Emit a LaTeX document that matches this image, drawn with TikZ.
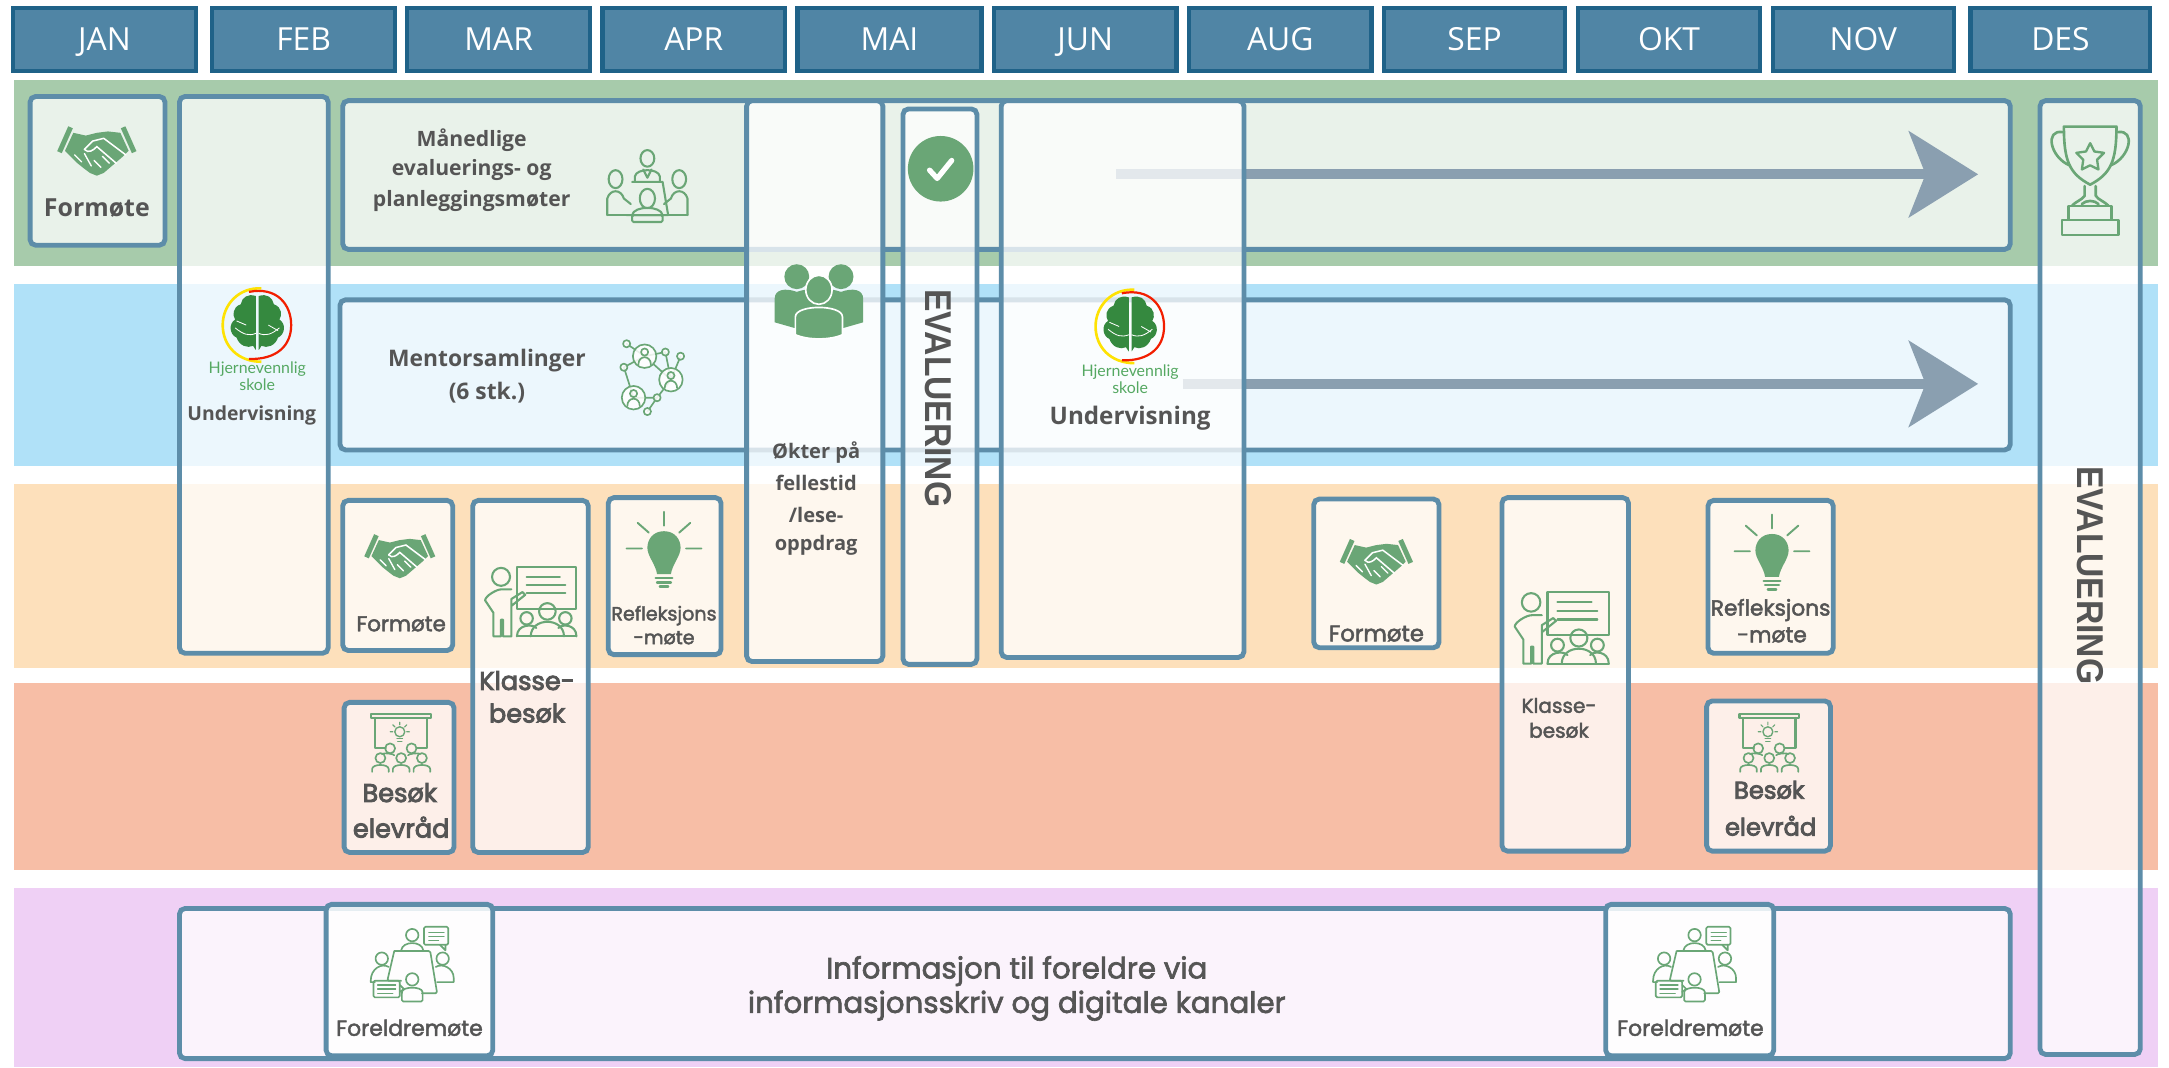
\documentclass[tikz,border=0pt]{standalone}
\usepackage{graphicx}
\usepackage{fontspec}
\usetikzlibrary{arrows.meta}
\newfontfamily\ops{Open Sans}
\newfontfamily\lex{Poppins}[FakeBold=2.2]
\newfontfamily\lexb{Poppins}[FakeBold=3.4]
\newfontfamily\lat{Lato}
\newfontfamily\lib{Liberation Sans}
\definecolor{ic}{HTML}{6AA676}
\definecolor{bandg}{HTML}{A7CBAB}
\definecolor{bandb}{HTML}{B0E1F8}
\definecolor{bando}{HTML}{FDE0BB}
\definecolor{bands}{HTML}{F7BEA6}
\definecolor{bandp}{HTML}{EFD0F5}
\definecolor{monf}{HTML}{5085A5}
\definecolor{mond}{HTML}{1F6288}
\definecolor{bst}{HTML}{5D8DA9}
\definecolor{tx}{HTML}{555555}
\definecolor{arr}{HTML}{8A9FB0}
\definecolor{brain}{HTML}{35893F}
\definecolor{lg}{HTML}{55A862}
\tikzset{
 x=1pt,y=-1pt,
 mon/.style={draw=mond,line width=3pt,fill=monf,text=white,inner sep=0,outer sep=0,text height=16.5pt,text depth=0pt,font=\ops\fontsize{23}{26}\selectfont},
 band/.style={draw=none,inner sep=0,outer sep=0},
 bx/.style={draw=bst,line width=3.5pt,rounded corners=4pt,fill=white,fill opacity=.76,inner sep=0,outer sep=0},
 bxw/.style={bx,fill opacity=.85},
 flow/.style={draw=arr,line width=7pt,-{Stealth[length=50pt,width=62pt,inset=12pt]}},
 lab/.style={text=tx,align=center,inner sep=0,font=\ops\bfseries},
 lx/.style={text=tx,align=center,inner sep=0,font=\lex},
 icl/.style={draw=ic,line width=1.5pt,line join=round,line cap=round,fill=none},
 icf/.style={fill=ic,draw=none},
 pics/handshake/.style={code={
  \draw[ic,line width=3.6pt] (-27,1)--(-19,-17);
  \draw[ic,line width=3.6pt] (27,1)--(19,-17);
  \fill[ic] (-17,-13)--(-8,-11)--(0,-13)--(8,-14)--(17,-13)--(23,0)--(19,4)--(5,16)--(0,18)--(-5,16)--(-9,13)--(-14,9)--(-18,5)--(-23,0)--cycle;
  \draw[white,line width=1.1pt,line cap=round] (-9,-1)--(-3,-7)--(5,-9)--(21,3);
  \draw[white,line width=1.1pt,line cap=round] (-9,-1)..controls (-6,2) and (-3,0)..(0,-3)--(14,9);
  \draw[white,line width=1pt,line cap=round] (-16,3)--(-11,8) (-9,2)--(-4,11) (-2,7)--(3,12) (4,4)--(9,9);
 }},
 pics/meeting/.style={code={
  \draw[icl] (0,-20) ellipse (5 and 6);
  \draw[icl] (-9,-3)--(-9,-7)..controls (-8,-13) and (8,-13)..(9,-7)--(9,-3);
  \draw[icl] (-3,-12)--(0,-6)--(3,-12);
  \draw[icl] (-23,-5) ellipse (5 and 6.5) (23,-5) ellipse (5 and 6.5);
  \draw[icl] (-29,21)--(-29,9)..controls (-27,2) and (-19,2)..(-17,9)--(-12,13);
  \draw[icl] (29,21)--(29,9)..controls (27,2) and (19,2)..(17,9)--(12,13);
  \draw[icl] (-11,-3)--(11,-3)--(15,21)--(-15,21);
  \draw[icl] (-29,21)--(29,21);
  \draw[icl] (0,9) ellipse (5.5 and 7);
  \draw[icl] (-11,21)..controls (-10,14) and (10,14)..(11,21);
  \draw[icl,rounded corners=1pt] (-11,21) rectangle (11,26);
 }},
 pics/network/.style={code={
  \draw[icl,line width=1.2pt] (-18,-25)--(-5,-16) (10,-19)--(14,1) (21,-16)--(14,1) (10,-19)--(-5,-16) (-20,-8)--(-13,14) (-5,-16)--(14,1) (-13,14)--(4,14)--(14,1) (-3,24)--(4,14) (-20,-8)--(-5,-16);
  \foreach \p in {(-5,-16),(14,1),(-13,14)}{
   \fill[white,fill opacity=.85] \p circle (8.5);
   \draw[icl,line width=1.2pt] \p circle (8.5);
   \begin{scope}[shift={\p}]
    \draw[icl,line width=1.2pt] (0,-3) circle (2.6);
    \draw[icl,line width=1.2pt] (-4.5,6)..controls (-4.5,-1) and (4.5,-1)..(4.5,6);
   \end{scope}}
  \foreach \p in {(-18,-25),(10,-19),(21,-16),(-20,-8),(4,14),(-3,24)}{
   \fill[white,fill opacity=.85] \p circle (2.6);
   \draw[icl,line width=1.2pt] \p circle (2.6);}
 }},
 pics/logo/.style={code={
  \draw[color=yellow!85!orange,line width=1.9pt] (3,-26.5)..controls (-13,-27.5) and (-25,-15)..(-25,0)..controls (-25,15) and (-14,26.5)..(3,26.5);
  \draw[color=red!75!orange!95!black,line width=1.6pt] (-6,-24)..controls (14,-28) and (24.5,-15)..(24.5,0)..controls (24.5,15) and (14,25)..(-6,24.5);
  \fill[brain] (-1,-21)..controls (-7,-23) and (-11,-20)..(-12,-15)..controls (-18,-13) and (-18,-7)..(-16,-4)..controls (-21,-1) and (-20,7)..(-15,9)..controls (-13,15) and (-7,17)..(-3,15)..controls (-2,17) and (-1,18)..(-1,18)--cycle;
  \fill[brain] (1,-21)..controls (7,-23) and (11,-20)..(12,-15)..controls (18,-13) and (18,-7)..(16,-4)..controls (21,-1) and (20,7)..(15,9)..controls (13,15) and (7,17)..(3,15)..controls (2,17) and (1,18)..(1,18)--cycle;
  \draw[white,line width=.6pt] (-16,2)..controls (-10,7) and (-6,8)..(-1,6) (16,2)..controls (10,7) and (6,8)..(1,6) (-15,-3)--(-8,0) (15,4)--(8,0);
 }},
 pics/people/.style={code={
  \fill[ic] (-16,-18) circle (9) (16,-18) circle (9);
  \fill[ic] (-32,15)--(-32,-2)..controls (-32,-9) and (-24,-10)..(-16,-7)..controls (-8,-10) and (8,-10)..(16,-7)..controls (24,-10) and (32,-9)..(32,-2)--(32,15)--(18,19)--(-18,19)--cycle;
  \fill[ic,draw=white,line width=1.2pt] (0,-8.5) ellipse (9.5 and 10.5);
  \fill[ic,draw=white,line width=1.2pt] (-17,24)--(-17,11)..controls (-17,2) and (17,2)..(17,11)--(17,24)..controls (8,28) and (-8,28)..(-17,24)--cycle;
 }},
 pics/checkmark/.style={code={
  \fill[ic] (0,0) circle (23.7);
  \draw[white,line width=3.8pt,line cap=round,line join=round] (-8,1)--(-2.5,7)--(8,-6);
 }},
 pics/trophy/.style={code={
  \draw[icl,line width=1.9pt] (-19,-40)--(19,-40)..controls (19,-15) and (15,-6)..(0,2)..controls (-15,-6) and (-19,-15)..(-19,-40)--cycle;
  \draw[icl,line width=1.9pt] (-20,-36)..controls (-33,-38) and (-29,-18)..(-15,-12);
  \draw[icl,line width=1.9pt] (20,-36)..controls (33,-38) and (29,-18)..(15,-12);
  \draw[icl,line width=1.9pt] (-4,3)--(-4,10)..controls (-6,13) and (-10,14)..(-13,17) (4,3)--(4,10)..controls (6,13) and (10,14)..(13,17) (-6,16)..controls (-3,13) and (3,13)..(6,16);
  \draw[icl,line width=1.9pt] (-15.5,17.5) rectangle (15.5,27.5);
  \draw[icl,line width=1.9pt] (-20.5,27.5) rectangle (20.5,38.5);
  \draw[icl,line width=1.7pt] (0,-28)--(3,-22)--(10,-21)--(5,-16)--(6,-9)--(0,-12)--(-6,-9)--(-5,-16)--(-10,-21)--(-3,-22)--cycle;
 }},
 pics/presenter/.style={code={
  \draw[icl] (-10,-25) rectangle (33,5);
  \draw[icl] (-3,-18)--(21,-18) (-3,-12)--(25,-12) (-3,-6)--(25,-6);
  \draw[icl] (-21.5,-18) circle (6.5);
  \draw[icl] (-14,-9)--(-21,-9)..controls (-25,-9) and (-33,-4)..(-33,-1)--(-27,8)--(-27,25)--(-21.5,25)--(-21.5,13)--(-20,13)--(-20,25)--(-14,25)--(-14,-2)--(-6,-7)--(-4,-5)--(-14,3);
  \draw[icl] (-3,12) circle (4.5) (25,12) circle (4.5);
  \draw[icl] (12,7) circle (6);
  \draw[icl] (-10,25)..controls (-10,16) and (2,16)..(4,19) (33,25)..controls (33,16) and (22,16)..(20,19);
  \draw[icl] (0,25)..controls (0,11) and (24,11)..(24,25);
  \draw[icl] (-10,25)--(33,25);
 }},
 pics/bulb/.style={code={
  \fill[ic] (0,-21)..controls (8,-21) and (12,-15)..(12,-9)..controls (12,-3) and (6,3)..(5,10)--(-5,10)..controls (-6,3) and (-12,-3)..(-12,-9)..controls (-12,-15) and (-8,-21)..(0,-21)--cycle;
  \draw[ic,line width=1.8pt,line cap=round] (-6,13)--(6,13) (-5,16)--(5,16) (-3,19)--(3,19);
  \draw[ic,line width=1.4pt,line cap=round] (0,-35)--(0,-25) (-27,-8.5)--(-16,-8.5) (16,-8.5)--(27,-8.5) (-19,-27)--(-11,-20) (19,-27)--(11,-20);
 }},
 pics/classroom/.style={code={
  \draw[icl] (-21.5,-21) rectangle (21.5,-18);
  \draw[icl] (-19,-18)--(-19,4)--(-11,4) (19,-18)--(19,4)--(11,4);
  \draw[icl,line width=1pt] (-1,-8) circle (3.6);
  \draw[icl,line width=1pt] (-3,-3)--(1,-3) (-2.5,-1)--(.5,-1);
  \draw[icl,line width=.8pt] (-1,-15)--(-1,-13) (-8,-8)--(-6,-8) (6,-8)--(4,-8) (-6,-13)--(-4.5,-11.5) (4,-13)--(2.5,-11.5);
  \foreach \p in {(-8,4),(7.5,4),(-15,11),(0,11),(15,11)}{\draw[icl,line width=1.2pt] \p circle (3.6);}
  \draw[icl,line width=1.2pt] (-21,21)--(-21,19)..controls (-21,15) and (-9,15)..(-9,19)--(-9,21);
  \draw[icl,line width=1.2pt] (-6,21)--(-6,19)..controls (-6,15) and (6,15)..(6,19)--(6,21);
  \draw[icl,line width=1.2pt] (21,21)--(21,19)..controls (21,15) and (9,15)..(9,19)--(9,21);
  \draw[icl,line width=1.2pt] (-14,8)..controls (-12,7) and (-5,8)..(-5,9) (14,8)..controls (12,7) and (5,8)..(5,9);
 }},
 pics/parents/.style={code={
  \draw[icl,line width=1.2pt] (0,-21) circle (4.5);
  \draw[icl,line width=1.2pt] (-8,-10)..controls (-7,-17) and (7,-17)..(8,-10);
  \draw[icl,line width=1.2pt,rounded corners=1pt] (-13,-9.5)--(13,-9.5)--(18,21)--(7,21) (-8,12)--(-18,12)--(-13,-9.5);
  \draw[icl,line width=1.2pt,rounded corners=1pt] (8.5,-27) rectangle (26,-14);
  \draw[icl,line width=1.2pt] (20,-14)--(24,-10)--(24,-14);
  \draw[icl,line width=.9pt] (12,-23)--(23,-23) (12,-20)--(23,-20) (12,-17)--(19,-17);
  \draw[icl,line width=1.2pt] (-22,-4) circle (4.5) (22,-4) circle (4.5);
  \draw[icl,line width=1.2pt] (-17,2)..controls (-22,-1) and (-30,3)..(-30,12)--(-30,13)--(-27,13);
  \draw[icl,line width=1.2pt] (17,2)..controls (22,-1) and (30,3)..(30,10)--(30,13)--(18,13);
  \draw[icl,line width=1.2pt,rounded corners=1pt] (-28,12) rectangle (-9,24);
  \draw[icl,line width=1.2pt] (-9,15)--(-6,18)--(-9,20);
  \draw[icl,line width=.9pt] (-25,15)--(-12,15) (-25,18)--(-12,18) (-25,21)--(-14,21);
  \draw[icl,line width=1.2pt] (0,11) circle (4.5);
  \draw[icl,line width=1.2pt,rounded corners=1pt] (-7.5,27)--(-7.5,21)..controls (-7,16) and (7,16)..(7.5,21)--(7.5,27)--cycle;
 }},
}
\newcommand{\mybox}[6][bx]{%
 \pgfmathsetmacro\bw{#4-#2-3.5}\pgfmathsetmacro\bh{#5-#3-3.5}%
 \pgfmathsetmacro\bcx{(#4+#2)/2}\pgfmathsetmacro\bcy{(#5+#3)/2}%
 \node[#1,minimum width=\bw pt,minimum height=\bh pt] (#6) at (\bcx,\bcy) {};}
\newcommand{\myband}[4]{%
 \pgfmathsetmacro\bh{#3-#2}\pgfmathsetmacro\bcy{(#3+#2)/2}%
 \node[band,fill=#1,minimum width=1550pt,minimum height=\bh pt] (#4) at (785,\bcy) {};}
\newcommand{\mymon}[4]{%
 \pgfmathsetmacro\bw{#3-#2-3}\pgfmathsetmacro\bcx{(#3+#2)/2}%
 \node[mon,minimum width=\bw pt,minimum height=46pt] (#4) at (\bcx,28.5) {#1};}
\newcommand{\fs}[1]{\fontsize{#1}{#1}\selectfont}
\newcommand{\evtxt}{\scalebox{.9}[1]{EVALUERING}}
\begin{document}
\begin{tikzpicture}
\useasboundingbox (0,0) rectangle (1568,772);
\fill[white] (0,0) rectangle (1568,772);
% months
\mymon{JAN}{8}{143}{jan}
\mymon{FEB}{152}{287}{feb}
\mymon{MAR}{293}{428}{mar}
\mymon{APR}{434}{569}{apr}
\mymon{MAI}{575}{711}{mai}
\mymon{JUN}{717}{852}{jun}
\mymon{AUG}{858}{993}{aug}
\mymon{SEP}{999}{1133}{sep}
\mymon{OKT}{1139}{1274}{okt}
\mymon{NOV}{1280}{1414}{nov}
\mymon{DES}{1423}{1556}{des}
% bands
\myband{bandg}{58}{192}{b1}
\myband{bandb}{205}{337}{b2}
\myband{bando}{350}{483}{b3}
\myband{bands}{494}{629}{b4}
\myband{bandp}{642}{771}{b5}
% wide boxes
\mybox{246}{71}{1455}{182}{mnd}
\mybox{244}{215}{1455}{327}{ment}
\mybox{128}{655}{1455}{767}{info}
% arrows
\coordinate (a1s) at (807,126);
\coordinate (a1e) at (1430,126);
\coordinate (a2s) at (855,277.5);
\coordinate (a2e) at (1430,277.5);
\draw[flow] (a1s)--(a1e);
\draw[flow] (a2s)--(a2e);
% columns
\mybox{20}{68}{121}{179}{fm1}
\mybox{128}{68}{239}{474}{und1}
\mybox{538}{71}{640}{480}{okt1}
\mybox{651}{77}{708}{482}{ev1}
\mybox{722}{71}{901}{477}{und2}
\mybox{1473}{71}{1549}{764}{ev2}
\mybox{246}{360}{329}{472}{fm2}
\mybox{340}{360}{427}{618}{kl1}
\mybox{438}{358}{523}{475}{rf1}
\mybox{948}{359}{1042}{470}{fm3}
\mybox{1084}{358}{1179}{617}{kl2}
\mybox{1233}{360}{1327}{474}{rf2}
\mybox{247}{506}{330}{618}{be1}
\mybox{1232}{505}{1325}{617}{be2}
\mybox[bxw]{234}{652}{358}{765}{fo1}
\mybox[bxw]{1159}{652}{1284}{765}{fo2}
% icons
\pic (h1) at (70,109) {handshake};
\pic[scale=.89] (h2) at (289,402) {handshake};
\pic[scale=.92] (h3) at (995,406) {handshake};
\pic (m1) at (468,134.5) {meeting};
\pic (n1) at (471,273.5) {network};
\pic (l1) at (186,235) {logo};
\pic (l2) at (817,236) {logo};
\pic (p1) at (592,218) {people};
\pic (c1) at (680,122) {checkmark};
\pic (t1) at (1511,131.5) {trophy};
\pic (s1) at (383.7,435) {presenter};
\pic[scale=1.03] (s2) at (1129,454) {presenter};
\pic (i1) at (480,405) {bulb};
\pic (i2) at (1281,407) {bulb};
\pic (k1) at (290,537) {classroom};
\pic (k2) at (1279,537) {classroom};
\pic (o1) at (298,697) {parents};
\pic (o2) at (1225,697) {parents};
% texts
\node[lab,font=\ops\bfseries\fs{18}] (t01) at (70,150.5) {Formøte};
\node[lab,font=\ops\bfseries\fs{15.3}] (t02) at (341,101.5) {Månedlige};
\node[lab,font=\ops\bfseries\fs{15.3}] (t03) at (341,123) {evaluerings- og};
\node[lab,font=\ops\bfseries\fs{15.3}] (t04) at (341,145) {planleggingsmøter};
\node[lab,font=\ops\bfseries\fs{16.5}] (t05) at (352,261) {Mentorsamlinger};
\node[lab,font=\ops\bfseries\fs{16.5}] (t06) at (352,284) {(6 stk.)};
\node[lab,font=\ops\bfseries\fs{14}] (t07) at (182,300) {Undervisning};
\node[lab,font=\ops\bfseries\fs{17.5}] (t08) at (817,302) {Undervisning};
\node[text=lg,inner sep=0,font=\lat\fs{11.5}] (t09) at (186,267) {Hjernevennlig};
\node[text=lg,inner sep=0,font=\lat\fs{11.5}] (t10) at (186,278) {skole};
\node[text=lg,inner sep=0,font=\lat\fs{11.5}] (t11) at (817,269) {Hjernevennlig};
\node[text=lg,inner sep=0,font=\lat\fs{11.5}] (t12) at (817,280) {skole};
\node[lab,font=\ops\bfseries\fs{14.5}] (t13) at (590,327) {Økter på};
\node[lab,font=\ops\bfseries\fs{14.5}] (t14) at (590,349) {fellestid};
\node[lab,font=\ops\bfseries\fs{14.5}] (t15) at (590,372) {/lese-};
\node[lab,font=\ops\bfseries\fs{14.5}] (t16) at (590,394) {oppdrag};
\node[lab,rotate=-90,font=\lib\bfseries\fs{27}] (t17) at (678,288) {\evtxt};
\node[lab,rotate=-90,font=\lib\bfseries\fs{27}] (t18) at (1511,416) {\evtxt};
\node[lx,font=\lex\fs{15.5}] (t19) at (290,451) {Formøte};
\node[lx,font=\lex\fs{16.5}] (t20) at (995,458) {Formøte};
\node[lx,font=\lex\fs{13.8}] (t21) at (480,445) {Refleksjons};
\node[lx,font=\lex\fs{13.8}] (t22) at (480,461) {-møte};
\node[lx,font=\lex\fs{15.7}] (t23) at (1280,441) {Refleksjons};
\node[lx,font=\lex\fs{15.7}] (t24) at (1281,459) {-møte};
\node[lx,font=\lexb\fs{18.5}] (t25) at (381,492) {Klasse-};
\node[lx,font=\lexb\fs{18.5}] (t26) at (381,515.5) {besøk};
\node[lx,font=\lex\fs{14.5}] (t27) at (1127,510) {Klasse-};
\node[lx,font=\lex\fs{14.5}] (t28) at (1127,528) {besøk};
\node[lx,font=\lexb\fs{18.5}] (t29) at (289,573) {Besøk};
\node[lx,font=\lexb\fs{18.5}] (t30) at (290,598) {elevråd};
\node[lx,font=\lexb\fs{17.5}] (t31) at (1279,571) {Besøk};
\node[lx,font=\lexb\fs{17.5}] (t32) at (1280,597) {elevråd};
\node[lx,font=\lex\fs{15.8}] (t33) at (296,743) {Foreldremøte};
\node[lx,font=\lex\fs{15.8}] (t34) at (1222,743) {Foreldremøte};
\node[lx,font=\lex\fs{21.2}] (t35) at (735,702) {Informasjon til foreldre via};
\node[lx,font=\lex\fs{21.2}] (t36) at (735,727) {informasjonsskriv og digitale kanaler};
\end{tikzpicture}
\end{document}
